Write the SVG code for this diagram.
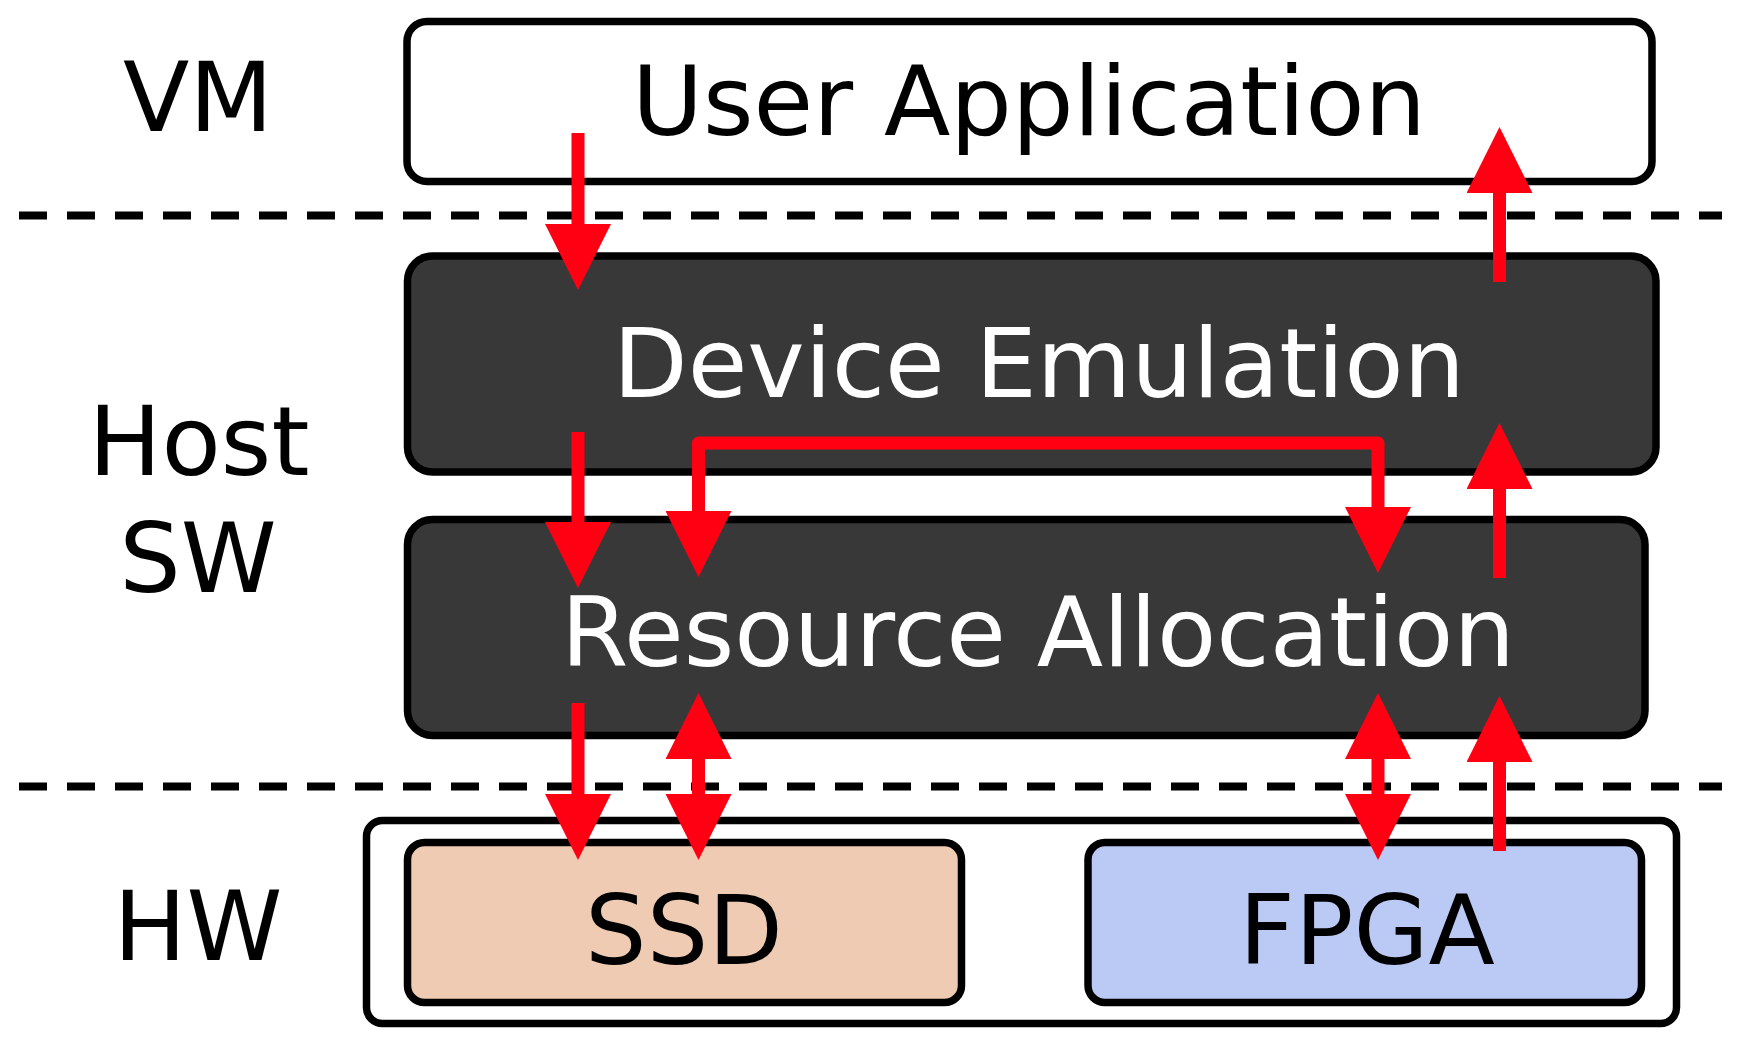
<svg xmlns="http://www.w3.org/2000/svg" width="1743" height="1049" viewBox="0 0 1743 1049">
<style>
.lbl{font-family:"DejaVu Sans","Verdana",sans-serif;font-size:97px;text-anchor:middle;fill:#000}
.wt{fill:#fff}
.box{stroke:#000;stroke-width:7.5}
.dash{stroke:#000;stroke-width:8;stroke-dasharray:28 20;fill:none}
.arr{stroke:#ff0013;stroke-width:13;fill:none;stroke-linejoin:round}
</style>
<defs>
<marker id="ah" viewBox="0 0 66 66" markerUnits="userSpaceOnUse" markerWidth="66" markerHeight="66" refX="0" refY="33" orient="auto-start-reverse">
<path d="M0,0 L66,33 L0,66 Z" fill="#ff0013"/>
</marker>
</defs>
<rect width="1743" height="1049" fill="#fff"/>
<g id="layer-labels">
<text class="lbl" x="198" y="131">VM</text>
<text class="lbl" x="199" y="475">Host</text>
<text class="lbl" x="198" y="592">SW</text>
<text class="lbl" x="198" y="960">HW</text>
</g>
<g id="separators">
<line class="dash" x1="19" y1="215.5" x2="1722" y2="215.5"/>
<line class="dash" x1="19" y1="786.5" x2="1722" y2="786.5"/>
</g>
<g id="user-application">
<rect class="box" x="407" y="21.5" width="1245" height="160" rx="20" fill="#fff"/>
<text class="lbl" x="1029" y="135">User Application</text>
</g>
<g id="device-emulation">
<rect class="box" x="407.5" y="256" width="1248.5" height="216" rx="25" fill="#383838"/>
<text class="lbl wt" x="1039" y="397">Device Emulation</text>
</g>
<g id="resource-allocation">
<rect class="box" x="407.5" y="519.5" width="1237.5" height="216" rx="25" fill="#383838"/>
<text class="lbl wt" x="1038" y="666">Resource Allocation</text>
</g>
<g id="hw">
<rect class="box" x="366.5" y="820.5" width="1310" height="203" rx="16" fill="#fff"/>
</g>
<g id="ssd">
<rect class="box" x="407.5" y="842.5" width="554" height="160" rx="17" fill="#efcbb3"/>
<text class="lbl" x="684" y="964">SSD</text>
</g>
<g id="fpga">
<rect class="box" x="1088" y="842.5" width="553.5" height="160" rx="17" fill="#bbcaf5"/>
<text class="lbl" x="1367" y="964">FPGA</text>
</g>
<g id="connectors">
<path class="arr" d="M578,133 V224" marker-end="url(#ah)"/>
<path class="arr" d="M1499.5,282 V193" marker-end="url(#ah)"/>
<path class="arr" d="M578,432 V522" marker-end="url(#ah)"/>
<path class="arr" d="M698.5,511 V443 H1378 V507" marker-start="url(#ah)" marker-end="url(#ah)"/>
<path class="arr" d="M1499.5,578 V489" marker-end="url(#ah)"/>
<path class="arr" d="M578,703 V794" marker-end="url(#ah)"/>
<path class="arr" d="M698.5,759 V794" marker-start="url(#ah)" marker-end="url(#ah)"/>
<path class="arr" d="M1378,759 V794" marker-start="url(#ah)" marker-end="url(#ah)"/>
<path class="arr" d="M1499.5,851 V762" marker-end="url(#ah)"/>
</g>
</svg>
